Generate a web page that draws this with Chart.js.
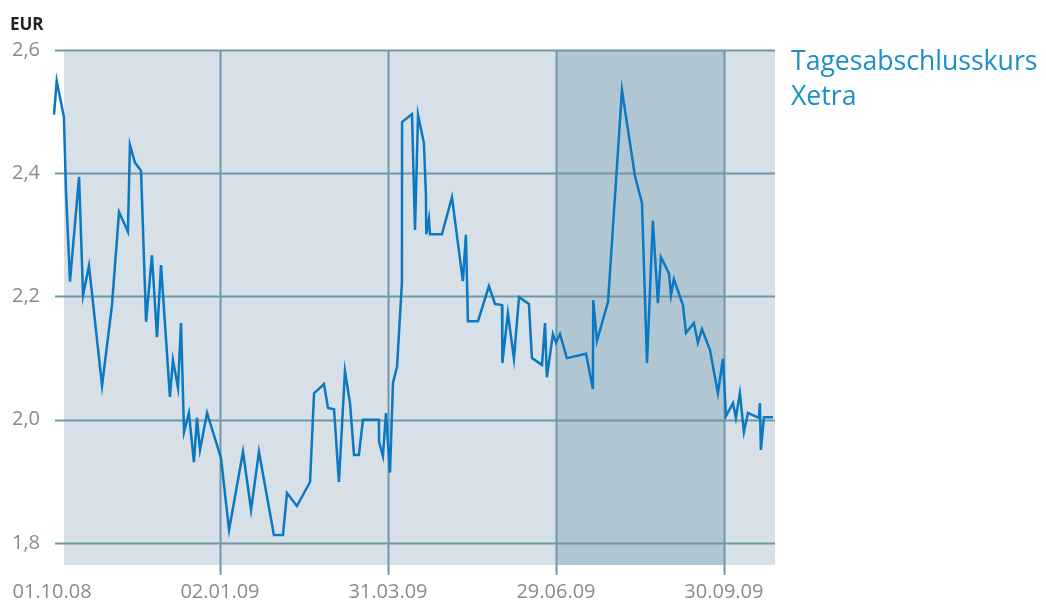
<!DOCTYPE html>
<html>
<head>
<meta charset="utf-8">
<script src="https://cdn.jsdelivr.net/npm/chart.js@4"></script>
<style>
  html, body { margin: 0; padding: 0; background: #ffffff; }
  #wrap { width: 1046px; height: 603px; position: relative; }
</style>
</head>
<body>
<div id="wrap"><canvas id="c" width="1046" height="603"></canvas></div>
<script>
// ---- data ----
const dateLabels = ["01.10.08", "02.01.09", "31.03.09", "29.06.09", "30.09.09"];
const dateTickPos = [0, 1, 2, 3, 4];
const yTickValues = [1.8, 2.0, 2.2, 2.4, 2.6];
const seriesName = ["Tagesabschlusskurs", "Xetra"];
const unitLabel = "EUR";
// time position in quarters (0 = 01.10.08, 1 = 02.01.09, ...)
const timePos = [
  0.012, 0.028, 0.071, 0.083, 0.107, 0.161, 0.185, 0.220, 0.298, 0.357,
  0.399, 0.452, 0.464, 0.494, 0.530, 0.560, 0.595, 0.625, 0.649, 0.702,
  0.720, 0.750, 0.768, 0.786, 0.815, 0.845, 0.863, 0.881, 0.923, 1.006,
  1.054, 1.137, 1.185, 1.232, 1.321, 1.375, 1.399, 1.458, 1.536, 1.560,
  1.619, 1.643, 1.679, 1.708, 1.744, 1.774, 1.798, 1.827, 1.851, 1.946,
  1.947, 1.970, 1.988, 2.012, 2.030, 2.054, 2.083, 2.084, 2.143, 2.161,
  2.179, 2.214, 2.226, 2.228, 2.244, 2.250, 2.321, 2.381, 2.446, 2.464,
  2.476, 2.536, 2.601, 2.637, 2.679, 2.681, 2.714, 2.750, 2.780, 2.839,
  2.857, 2.917, 2.935, 2.946, 2.982, 3.000, 3.024, 3.065, 3.179, 3.220,
  3.222, 3.244, 3.310, 3.393, 3.470, 3.512, 3.542, 3.577, 3.607, 3.625,
  3.673, 3.685, 3.702, 3.756, 3.774, 3.821, 3.845, 3.869, 3.917, 3.964,
  3.994, 4.012, 4.054, 4.071, 4.095, 4.119, 4.143, 4.208, 4.214, 4.220,
  4.238, 4.292
];
const closePrice = [
  2.495, 2.550, 2.491, 2.373, 2.224, 2.394, 2.202, 2.250, 2.055, 2.186,
  2.337, 2.305, 2.446, 2.417, 2.404, 2.159, 2.267, 2.134, 2.251, 2.037,
  2.097, 2.052, 2.157, 1.980, 2.011, 1.931, 2.003, 1.951, 2.011, 1.938,
  1.821, 1.948, 1.854, 1.948, 1.813, 1.813, 1.881, 1.860, 1.899, 2.043,
  2.058, 2.019, 2.017, 1.899, 2.079, 2.027, 1.943, 1.943, 2.000, 2.000,
  1.964, 1.941, 2.011, 1.914, 2.060, 2.086, 2.222, 2.483, 2.496, 2.308,
  2.495, 2.449, 2.365, 2.301, 2.326, 2.301, 2.301, 2.361, 2.225, 2.300,
  2.160, 2.160, 2.217, 2.188, 2.186, 2.092, 2.173, 2.099, 2.199, 2.188,
  2.100, 2.089, 2.157, 2.069, 2.139, 2.125, 2.139, 2.100, 2.107, 2.050,
  2.194, 2.128, 2.191, 2.535, 2.396, 2.352, 2.092, 2.323, 2.189, 2.264,
  2.237, 2.202, 2.228, 2.186, 2.141, 2.157, 2.125, 2.147, 2.113, 2.043,
  2.099, 2.006, 2.027, 2.003, 2.043, 1.980, 2.011, 2.003, 2.027, 1.951,
  2.004, 2.004
];
const highlightFrom = 3;
const highlightTo = 4;

// ---- styles ----
const FONT = "'Open Sans', 'Noto Sans', sans-serif";
const BG = "#d8e0e7";
const HL = "#b0c7d3";
const GRID = "#7097a8";
const LINE = "#0a78c2";
const TICK = "#8a8a8a";

const points = timePos.map((t, i) => ({ x: t, y: closePrice[i] }));

const decor = {
  id: "decor",
  beforeDraw(chart) {
    const { ctx, chartArea: a, scales: { x } } = chart;
    ctx.save();
    const left = x.getPixelForValue(0) + 12;
    ctx.fillStyle = BG;
    ctx.fillRect(left, a.top, a.right - left, a.bottom - a.top);
    const h1 = x.getPixelForValue(highlightFrom), h2 = x.getPixelForValue(highlightTo);
    ctx.fillStyle = HL;
    ctx.fillRect(h1, a.top, h2 - h1, a.bottom - a.top);
    ctx.restore();
  },
  beforeDatasetsDraw(chart) {
    const { ctx, chartArea: a, scales: { x, y } } = chart;
    ctx.save();
    ctx.strokeStyle = GRID;
    ctx.lineWidth = 2;
    yTickValues.forEach(v => {
      const py = Math.round(y.getPixelForValue(v)) + 0.5;
      ctx.beginPath();
      ctx.moveTo(x.getPixelForValue(0) + 3, py);
      ctx.lineTo(a.right, py);
      ctx.stroke();
    });
    dateTickPos.forEach(v => {
      if (v === 0) return;
      const px = Math.round(x.getPixelForValue(v)) + 0.5;
      ctx.beginPath();
      ctx.moveTo(px, a.top);
      ctx.lineTo(px, a.bottom + 10);
      ctx.stroke();
    });
    ctx.restore();
  },
  afterDraw(chart) {
    const { ctx, chartArea: a } = chart;
    ctx.save();
    ctx.fillStyle = "#222222";
    ctx.font = "bold 17px " + FONT;
    ctx.textBaseline = "alphabetic";
    ctx.textAlign = "left";
    ctx.fillText(unitLabel, 10, 30);
    ctx.fillStyle = "#1a8fc8";
    ctx.font = "26.6px " + FONT;
    ctx.fillText(seriesName[0], a.right + 16, 70);
    ctx.fillText(seriesName[1], a.right + 16, 105);
    ctx.restore();
  }
};

new Chart(document.getElementById("c"), {
  type: "line",
  data: {
    datasets: [{
      data: points,
      borderColor: LINE,
      borderWidth: 2.5,
      pointRadius: 0,
      tension: 0,
      fill: false
    }]
  },
  options: {
    responsive: false,
    animation: false,
    layout: { padding: { left: 10, right: 271, top: 50, bottom: 4 } },
    plugins: { legend: { display: false }, tooltip: { enabled: false } },
    scales: {
      x: {
        type: "linear",
        min: 0,
        max: 4.304,
        afterBuildTicks(s) { s.ticks = dateTickPos.map(v => ({ value: v })); },
        afterFit(s) { s.height = 34; s.paddingLeft = 0; s.paddingRight = 0; },
        grid: { display: false },
        border: { display: false },
        ticks: {
          autoSkip: false,
          maxRotation: 0,
          padding: 7,
          color: TICK,
          font: { family: FONT, size: 20 },
          callback: (v, i) => dateLabels[i]
        }
      },
      y: {
        type: "linear",
        min: 1.7643,
        max: 2.6,
        afterBuildTicks(s) { s.ticks = yTickValues.map(v => ({ value: v })); },
        afterFit(s) { s.width = 42; s.paddingTop = 0; s.paddingBottom = 0; },
        grid: { display: false },
        border: { display: false },
        ticks: {
          padding: 4,
          color: TICK,
          font: { family: FONT, size: 20 },
          callback: v => v.toFixed(1).replace(".", ",")
        }
      }
    }
  },
  plugins: [decor]
});
</script>
</body>
</html>
